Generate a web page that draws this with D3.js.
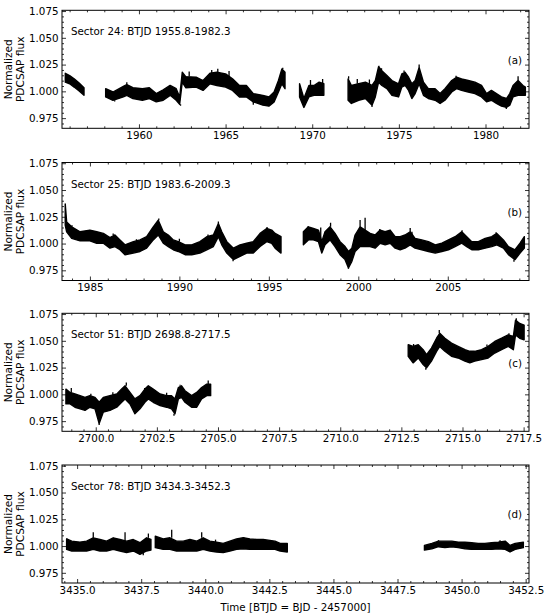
<!DOCTYPE html>
<html>
<head>
<meta charset="utf-8">
<script src="https://cdn.jsdelivr.net/npm/d3@7"></script>
<style>
  body { margin: 0; background: #fff; }
  svg { display: block; font-family: "DejaVu Sans", sans-serif; }
</style>
</head>
<body>
<svg id="chart" width="550" height="615"></svg>
<script>
// light curve envelopes (null = gap in the data)
// sector 24
const s24Time = [1955.75, 1956.0, 1956.26, 1956.55, 1956.83, null,
  1958.08, 1958.5, 1959.1, 1959.3, 1959.65, 1960.2, 1960.6, 1961.0, 1961.4, 1961.8, 1962.15, 1962.35,
  1962.5, 1962.7, 1963.3, 1963.7, 1964.1, 1964.5, 1965.0, 1965.4, 1965.8, 1966.2, 1966.6, 1967.15,
  1967.5, 1967.8, 1968.05, 1968.25, 1968.43, null,
  1969.27, 1969.52, 1969.81, 1970.1, 1970.4, 1970.67, null,
  1972.07, 1972.26, 1972.68, 1973.07, 1973.45, 1973.64, 1973.83, 1974.02, 1974.31, 1974.6, 1974.98,
  1975.17, 1975.36, 1975.56, 1975.75, 1975.94, 1976.17, 1976.42, 1976.7, 1977.09, 1977.38, 1977.66,
  1978.05, 1978.33, 1978.62, 1979.0, 1979.39, 1979.77, 1980.06, 1980.34, 1980.63, 1980.92, 1981.21,
  1981.4, 1981.59, 1981.88, 1982.16, 1982.3];
const s24Low = [1.0086, 1.0071, 1.0040, 1.0003, 0.9963, null,
  0.9948, 0.9917, 0.9948, 0.9963, 0.9933, 0.9917, 0.9933, 0.9902, 0.9917, 0.9963, 0.9917, 0.9880,
  1.0086, 1.0034, 1.0040, 1.0009, 1.0071, 1.0055, 1.0040, 1.0009, 0.9948, 0.9948, 0.9902, 0.9871,
  0.9862, 0.9902, 0.9994, 1.0071, 1.0025, null,
  0.9948, 0.9850, 0.9948, 0.9963, 0.9963, 0.9963, null,
  0.9917, 0.9887, 0.9917, 0.9933, 0.9871, 0.9948, 1.0086, 1.0055, 1.0025, 0.9963, 0.9948,
  1.0040, 1.0055, 1.0009, 0.9933, 0.9979, 1.0071, 0.9963, 0.9933, 0.9917, 0.9887, 0.9917,
  0.9994, 1.0025, 1.0009, 0.9994, 0.9979, 0.9948, 0.9902, 0.9917, 0.9887, 0.9862, 0.9850,
  0.9871, 0.9948, 0.9963, 0.9963, 0.9963];
const s24High = [1.0169, 1.0147, 1.0117, 1.0077, 1.0034, null,
  1.0025, 0.9994, 1.0046, 1.0064, 1.0034, 1.0025, 1.0034, 0.9979, 1.0015, 1.0055, 1.0025, 0.9948,
  1.0178, 1.0138, 1.0132, 1.0101, 1.0169, 1.0178, 1.0163, 1.0117, 1.0055, 1.0055, 0.9979, 0.9963,
  0.9948, 0.9994, 1.0101, 1.0209, 1.0178, null,
  1.0071, 0.9933, 1.0055, 1.0055, 1.0086, 1.0071, null,
  1.0117, 1.0055, 1.0071, 1.0086, 1.0055, 1.0101, 1.0230, 1.0193, 1.0147, 1.0101, 1.0071,
  1.0163, 1.0178, 1.0132, 1.0071, 1.0101, 1.0224, 1.0086, 1.0025, 1.0025, 0.9979, 1.0025,
  1.0101, 1.0132, 1.0117, 1.0101, 1.0086, 1.0055, 0.9979, 1.0009, 0.9979, 0.9948, 0.9933,
  0.9979, 1.0055, 1.0101, 1.0055, 1.0040];
const s24SpikeTime = [1959.3, 1964.55, 1968.3, 1972.1, 1973.85, 1976.17, 1981.88, 1962.4,
  1962.9, 1964.2, 1965.2, 1969.9, 1970.6, 1972.6, 1973.3, 1975.3, 1974.0, 1978.3,
  1966.6, 1958.6, 1981.2, 1973.45];
const s24SpikeFlux = [1.0085, 1.0210, 1.0220, 1.0140, 1.0240, 1.0250, 1.0140, 0.9865,
  1.0185, 1.0200, 1.0190, 1.0105, 1.0115, 1.0115, 1.0110, 1.0195, 1.0215, 1.0145,
  0.9875, 0.9905, 0.9835, 0.9855];

// sector 25
const s25Time = [1983.62, 1983.70, 1983.98, 1984.45, 1985.0, 1985.38, 1985.75, 1986.12, 1986.4, 1986.68,
  1986.96, 1987.43, 1987.8, 1988.17, 1988.54, 1988.82, 1989.1, 1989.38, 1989.66, 1989.94, 1990.32,
  1990.69, 1991.15, 1991.53, 1991.9, 1992.18, 1992.37, 1992.65, 1993.02, 1993.39, 1993.76, 1994.13,
  1994.51, 1994.88, 1995.16, 1995.35, 1995.68, null,
  1996.93, 1997.21, 1997.49, 1997.77, 1997.96, 1998.14, 1998.42, 1998.7, 1998.98, 1999.26, 1999.45,
  1999.64, 1999.82, 2000.1, 2000.38, 2000.66, 2000.94, 2001.22, 2001.5, 2001.78, 2002.06, 2002.34,
  2002.61, 2002.9, 2003.17, 2003.55, 2003.92, 2004.3, 2004.67, 2005.04, 2005.41, 2005.78, 2006.06,
  2006.34, 2006.71, 2007.09, 2007.46, 2007.74, 2008.11, 2008.39, 2008.76, 2009.04, 2009.28];
const s25Low = [1.0172, 1.0110, 1.0049, 1.0025, 1.0025, 1.0003, 1.0003, 0.9957, 0.9972, 0.9942,
  0.9896, 0.9911, 0.9926, 0.9957, 1.0034, 1.0080, 1.0003, 0.9972, 0.9942, 0.9926, 0.9896,
  0.9896, 0.9911, 0.9942, 0.9972, 1.0064, 0.9988, 0.9911, 0.9850, 0.9880, 0.9911, 0.9911,
  0.9972, 1.0018, 1.0003, 0.9957, 0.9911, null,
  0.9988, 1.0034, 1.0034, 1.0018, 0.9911, 0.9988, 1.0034, 0.9972, 0.9896, 0.9850, 0.9773,
  0.9834, 0.9926, 0.9972, 0.9972, 0.9972, 0.9957, 1.0003, 0.9988, 1.0003, 0.9957, 0.9942,
  0.9957, 0.9988, 0.9957, 0.9942, 0.9926, 0.9911, 0.9926, 0.9942, 0.9972, 1.0003, 0.9972,
  0.9942, 0.9942, 0.9957, 0.9972, 0.9988, 0.9957, 0.9896, 0.9850, 0.9911, 0.9957];
const s25High = [1.0371, 1.0202, 1.0156, 1.0110, 1.0126, 1.0110, 1.0095, 1.0055, 1.0080, 1.0034,
  0.9988, 1.0018, 1.0034, 1.0064, 1.0156, 1.0218, 1.0110, 1.0080, 1.0034, 1.0018, 0.9988,
  0.9988, 1.0018, 1.0064, 1.0080, 1.0187, 1.0110, 1.0018, 0.9957, 0.9988, 1.0003, 1.0018,
  1.0095, 1.0141, 1.0126, 1.0095, 1.0064, null,
  1.0110, 1.0156, 1.0141, 1.0126, 1.0018, 1.0110, 1.0156, 1.0095, 1.0018, 0.9972, 0.9926,
  0.9957, 1.0080, 1.0156, 1.0126, 1.0095, 1.0080, 1.0126, 1.0110, 1.0126, 1.0064, 1.0064,
  1.0080, 1.0110, 1.0049, 1.0034, 1.0018, 0.9988, 1.0003, 1.0034, 1.0064, 1.0110, 1.0064,
  1.0018, 1.0018, 1.0049, 1.0064, 1.0095, 1.0034, 0.9972, 0.9942, 1.0003, 1.0064];
const s25SpikeTime = [1988.85, 1992.18, 1998.45, 2000.1, 2000.38, 2002.9,
  1984.0, 1986.3, 1987.6, 1990.0, 1991.6, 1994.9, 1997.2, 1997.9, 2001.2, 2003.0, 2005.8, 2007.7,
  1993.0, 1999.45, 2008.7];
const s25SpikeFlux = [1.0235, 1.0205, 1.0195, 1.0220, 1.0240, 1.0145,
  1.0170, 1.0095, 1.0040, 1.0045, 1.0085, 1.0155, 1.0165, 1.0150, 1.0135, 1.0110, 1.0125, 1.0105,
  0.9835, 0.9765, 0.9830];

// sector 51
const s51Time = [2698.78, 2698.95, 2699.15, 2699.36, 2699.56, 2699.76, 2699.97, 2700.14, 2700.31, 2700.58,
  2700.86, 2701.06, 2701.2, 2701.4, 2701.6, 2701.81, 2702.01, 2702.15, 2702.35, 2702.63, 2702.9,
  2703.1, 2703.24, 2703.38, 2703.51, 2703.65, 2703.92, 2704.13, 2704.33, 2704.54, 2704.7, null,
  2712.78, 2712.98, 2713.19, 2713.39, 2713.53, 2713.73, 2713.94, 2714.07, 2714.28, 2714.55, 2714.82,
  2715.1, 2715.3, 2715.5, 2715.78, 2716.05, 2716.32, 2716.6, 2716.87, 2717.08, 2717.17, 2717.34, 2717.52];
const s51Low = [0.9911, 0.9911, 0.9880, 0.9865, 0.9850, 0.9880, 0.9865, 0.9727, 0.9834, 0.9850,
  0.9880, 0.9926, 0.9957, 0.9911, 0.9819, 0.9865, 0.9926, 0.9957, 0.9926, 0.9896, 0.9880,
  0.9865, 0.9819, 0.9957, 0.9972, 0.9926, 0.9880, 0.9880, 0.9957, 0.9988, 0.9988, null,
  1.0356, 1.0294, 1.0340, 1.0279, 1.0248, 1.0310, 1.0402, 1.0448, 1.0402, 1.0356, 1.0340,
  1.0310, 1.0294, 1.0310, 1.0325, 1.0340, 1.0386, 1.0417, 1.0448, 1.0417, 1.0555, 1.0524, 1.0509];
const s51High = [1.0049, 1.0018, 1.0003, 0.9988, 0.9972, 0.9988, 0.9972, 0.9926, 0.9972, 0.9988,
  1.0003, 1.0049, 1.0080, 1.0018, 0.9957, 0.9988, 1.0049, 1.0080, 1.0049, 1.0003, 0.9988,
  0.9988, 0.9957, 1.0064, 1.0080, 1.0034, 0.9988, 1.0018, 1.0064, 1.0095, 1.0095, null,
  1.0463, 1.0448, 1.0463, 1.0417, 1.0371, 1.0432, 1.0524, 1.0570, 1.0524, 1.0478, 1.0448,
  1.0417, 1.0402, 1.0402, 1.0417, 1.0448, 1.0494, 1.0524, 1.0555, 1.0540, 1.0693, 1.0662, 1.0647];
const s51SpikeTime = [2699.0, 2701.25, 2703.45, 2704.6, 2714.05, 2717.2,
  2699.8, 2700.7, 2702.0, 2702.9, 2703.2, 2700.14, 2713.0, 2713.5, 2716.0, 2716.9];
const s51SpikeFlux = [1.0060, 1.0110, 1.0090, 1.0130, 1.0600, 1.0710,
  1.0005, 1.0020, 1.0060, 1.0015, 0.9800, 0.9715, 1.0470, 1.0230, 1.0465, 1.0570];

// sector 78
const s78Time = [3434.59, 3434.79, 3435.11, 3435.37, 3435.63, 3435.89, 3436.15, 3436.41, 3436.67, 3436.93,
  3437.19, 3437.45, 3437.71, 3437.88, null,
  3438.05, 3438.36, 3438.62, 3438.88, 3439.14, 3439.4, 3439.67, 3439.92, 3440.18, 3440.44, 3440.7,
  3440.96, 3441.22, 3441.48, 3441.74, 3442.0, 3442.26, 3442.72, 3442.92, 3443.2, null,
  3448.55, 3448.84, 3449.1, 3449.35, 3449.62, 3449.87, 3450.13, 3450.39, 3450.65, 3450.91, 3451.17,
  3451.43, 3451.7, 3451.89, 3452.09, 3452.41];
const s78Low = [0.9969, 0.9954, 0.9954, 0.9954, 0.9969, 0.9954, 0.9954, 0.9969, 0.9954, 0.9939,
  0.9954, 0.9923, 0.9954, 0.9963, null,
  0.9985, 0.9969, 0.9969, 0.9954, 0.9954, 0.9954, 0.9954, 0.9969, 0.9954, 0.9945, 0.9939,
  0.9954, 0.9969, 0.9975, 0.9969, 0.9969, 0.9969, 0.9969, 0.9954, 0.9945, null,
  0.9963, 0.9975, 0.9994, 0.9985, 0.9994, 0.9985, 0.9975, 0.9969, 0.9969, 0.9969, 0.9969,
  0.9975, 0.9969, 0.9945, 0.9969, 0.9985];
const s78High = [1.0067, 1.0046, 1.0037, 1.0046, 1.0077, 1.0061, 1.0046, 1.0077, 1.0061, 1.0046,
  1.0061, 1.0031, 1.0077, 1.0061, null,
  1.0092, 1.0067, 1.0077, 1.0046, 1.0046, 1.0061, 1.0046, 1.0077, 1.0046, 1.0037, 1.0025,
  1.0046, 1.0067, 1.0077, 1.0067, 1.0061, 1.0061, 1.0046, 1.0025, 1.0025, null,
  1.0006, 1.0025, 1.0046, 1.0046, 1.0046, 1.0037, 1.0037, 1.0031, 1.0025, 1.0025, 1.0031,
  1.0037, 1.0046, 1.0006, 1.0025, 1.0037];
const s78SpikeTime = [3435.63, 3436.87, 3437.58, 3437.78, 3438.69, 3439.86,
  3434.6, 3440.4, 3441.5, 3449.1, 3451.5];
const s78SpikeFlux = [1.0129, 1.0129, 0.9914, 1.0117, 1.0153, 1.0129,
  1.0070, 1.0060, 1.0085, 1.0055, 1.0055];

const sectorTitles = ["Sector 24: BTJD 1955.8-1982.3", "Sector 25: BTJD 1983.6-2009.3",
  "Sector 51: BTJD 2698.8-2717.5", "Sector 78: BTJD 3434.3-3452.3"];
const panelTags = ["(a)", "(b)", "(c)", "(d)"];
const fluxTicks = [0.975, 1.000, 1.025, 1.050, 1.075];
const xAxisTitle = "Time [BTJD = BJD - 2457000]";

const panels = [
  { time: s24Time, low: s24Low, high: s24High, spikeT: s24SpikeTime, spikeF: s24SpikeFlux,
    xlim: [1955.56, 1982.51], major: 5, minor: 1, fmt: d3.format("d"), top: 10.3 },
  { time: s25Time, low: s25Low, high: s25High, spikeT: s25SpikeTime, spikeF: s25SpikeFlux,
    xlim: [1983.44, 2009.54], major: 5, minor: 1, fmt: d3.format("d"), top: 162.5 },
  { time: s51Time, low: s51Low, high: s51High, spikeT: s51SpikeTime, spikeF: s51SpikeFlux,
    xlim: [2698.62, 2717.72], major: 2.5, minor: 0.5, fmt: d3.format(".1f"), top: 313.3 },
  { time: s78Time, low: s78Low, high: s78High, spikeT: s78SpikeTime, spikeF: s78SpikeFlux,
    xlim: [3434.41, 3452.63], major: 2.5, minor: 0.5, fmt: d3.format(".1f"), top: 465 }
];

const left = 62, right = 529, panelH = 118;
const fontSize = 10.3;
const svg = d3.select("#chart");

// tick values between the limits, as multiples of the step
function stepTicks(lim, step) {
  return d3.range(Math.ceil(lim[0] / step - 1e-9), Math.floor(lim[1] / step + 1e-9) + 1)
    .map(k => +(k * step).toFixed(4));
}

panels.forEach((p, i) => {
  const g = svg.append("g").attr("transform", `translate(0,${p.top})`);

  const x = d3.scaleLinear().domain(p.xlim).range([left, right]);
  const y = d3.scaleLinear().domain([0.9655, 1.0757]).range([panelH, 0]);

  const rows = p.time.map((t, k) => ({ t: t, lo: p.low[k], hi: p.high[k] }));

  const clipId = "clip" + i;
  g.append("clipPath").attr("id", clipId)
    .append("rect").attr("x", left).attr("y", 0).attr("width", right - left).attr("height", panelH);

  const plot = g.append("g").attr("clip-path", `url(#${clipId})`);

  // flux band
  const band = d3.area()
    .defined(d => d.t != null)
    .x(d => x(d.t))
    .y0(d => y(d.lo))
    .y1(d => y(d.hi));

  plot.append("path")
    .datum(rows)
    .attr("d", band)
    .attr("fill", "#000")
    .attr("stroke", "#000")
    .attr("stroke-width", 1.4)
    .attr("stroke-linejoin", "round");

  // stray points with error bars
  const valid = rows.filter(d => d.t != null);
  const bis = d3.bisector(d => d.t).center;
  p.spikeT.forEach((t, k) => {
    const f = p.spikeF[k];
    const near = valid[bis(valid, t)];
    const edge = f > near.hi ? near.hi : near.lo;
    plot.append("line")
      .attr("x1", x(t)).attr("x2", x(t))
      .attr("y1", y(f)).attr("y2", y(edge))
      .attr("stroke", "#000").attr("stroke-width", 1.3);
  });

  // axes, ticks pointing in on all four sides
  const xMajor = stepTicks(p.xlim, p.major);
  const xMinor = stepTicks(p.xlim, p.minor).filter(v => !xMajor.some(m => Math.abs(m - v) < 1e-6));
  const yMinor = stepTicks(y.domain(), 0.005).filter(v => !fluxTicks.some(m => Math.abs(m - v) < 1e-6));

  const axes = g.append("g").attr("class", "axes");

  axes.append("g").attr("transform", `translate(0,${panelH})`)
    .call(d3.axisBottom(x).tickValues(xMajor).tickFormat(p.fmt).tickSize(-4).tickSizeOuter(0).tickPadding(3.5));
  axes.append("g").attr("transform", `translate(0,${panelH})`)
    .call(d3.axisBottom(x).tickValues(xMinor).tickFormat("").tickSize(-2).tickSizeOuter(0));
  axes.append("g")
    .call(d3.axisTop(x).tickValues(xMajor).tickFormat("").tickSize(-4).tickSizeOuter(0));
  axes.append("g")
    .call(d3.axisTop(x).tickValues(xMinor).tickFormat("").tickSize(-2).tickSizeOuter(0));

  axes.append("g").attr("transform", `translate(${left},0)`)
    .call(d3.axisLeft(y).tickValues(fluxTicks).tickFormat(d3.format(".3f")).tickSize(-4).tickSizeOuter(0).tickPadding(3.5));
  axes.append("g").attr("transform", `translate(${left},0)`)
    .call(d3.axisLeft(y).tickValues(yMinor).tickFormat("").tickSize(-2).tickSizeOuter(0));
  axes.append("g").attr("transform", `translate(${right},0)`)
    .call(d3.axisRight(y).tickValues(fluxTicks).tickFormat("").tickSize(-4).tickSizeOuter(0));
  axes.append("g").attr("transform", `translate(${right},0)`)
    .call(d3.axisRight(y).tickValues(yMinor).tickFormat("").tickSize(-2).tickSizeOuter(0));

  axes.selectAll(".domain").remove();
  axes.selectAll(".tick line").attr("stroke", "#000").attr("stroke-width", 0.8);
  axes.selectAll(".tick text")
    .attr("fill", "#000")
    .style("font-family", '"DejaVu Sans", sans-serif')
    .style("font-size", fontSize + "px");

  g.append("rect")
    .attr("x", left).attr("y", 0)
    .attr("width", right - left).attr("height", panelH)
    .attr("fill", "none").attr("stroke", "#000").attr("stroke-width", 1);

  // sector label and panel tag
  g.append("text")
    .attr("x", left + 9).attr("y", 25.2)
    .style("font-size", fontSize + "px")
    .text(sectorTitles[i]);

  g.append("text")
    .attr("x", right - 7).attr("y", panelH * 0.42 + 3.7)
    .attr("text-anchor", "end")
    .style("font-size", fontSize + "px")
    .text(panelTags[i]);

  // y label on two lines
  const yl = g.append("text")
    .attr("transform", `translate(0,${panelH / 2}) rotate(-90)`)
    .attr("text-anchor", "middle")
    .style("font-size", (fontSize + 0.3) + "px");
  yl.append("tspan").attr("x", 0).attr("y", 12.3).text("Normalized");
  yl.append("tspan").attr("x", 0).attr("y", 24.3).text("PDCSAP flux");
});

svg.append("text")
  .attr("x", (left + right) / 2).attr("y", 611)
  .attr("text-anchor", "middle")
  .style("font-size", fontSize + "px")
  .text(xAxisTitle);
</script>
</body>
</html>
